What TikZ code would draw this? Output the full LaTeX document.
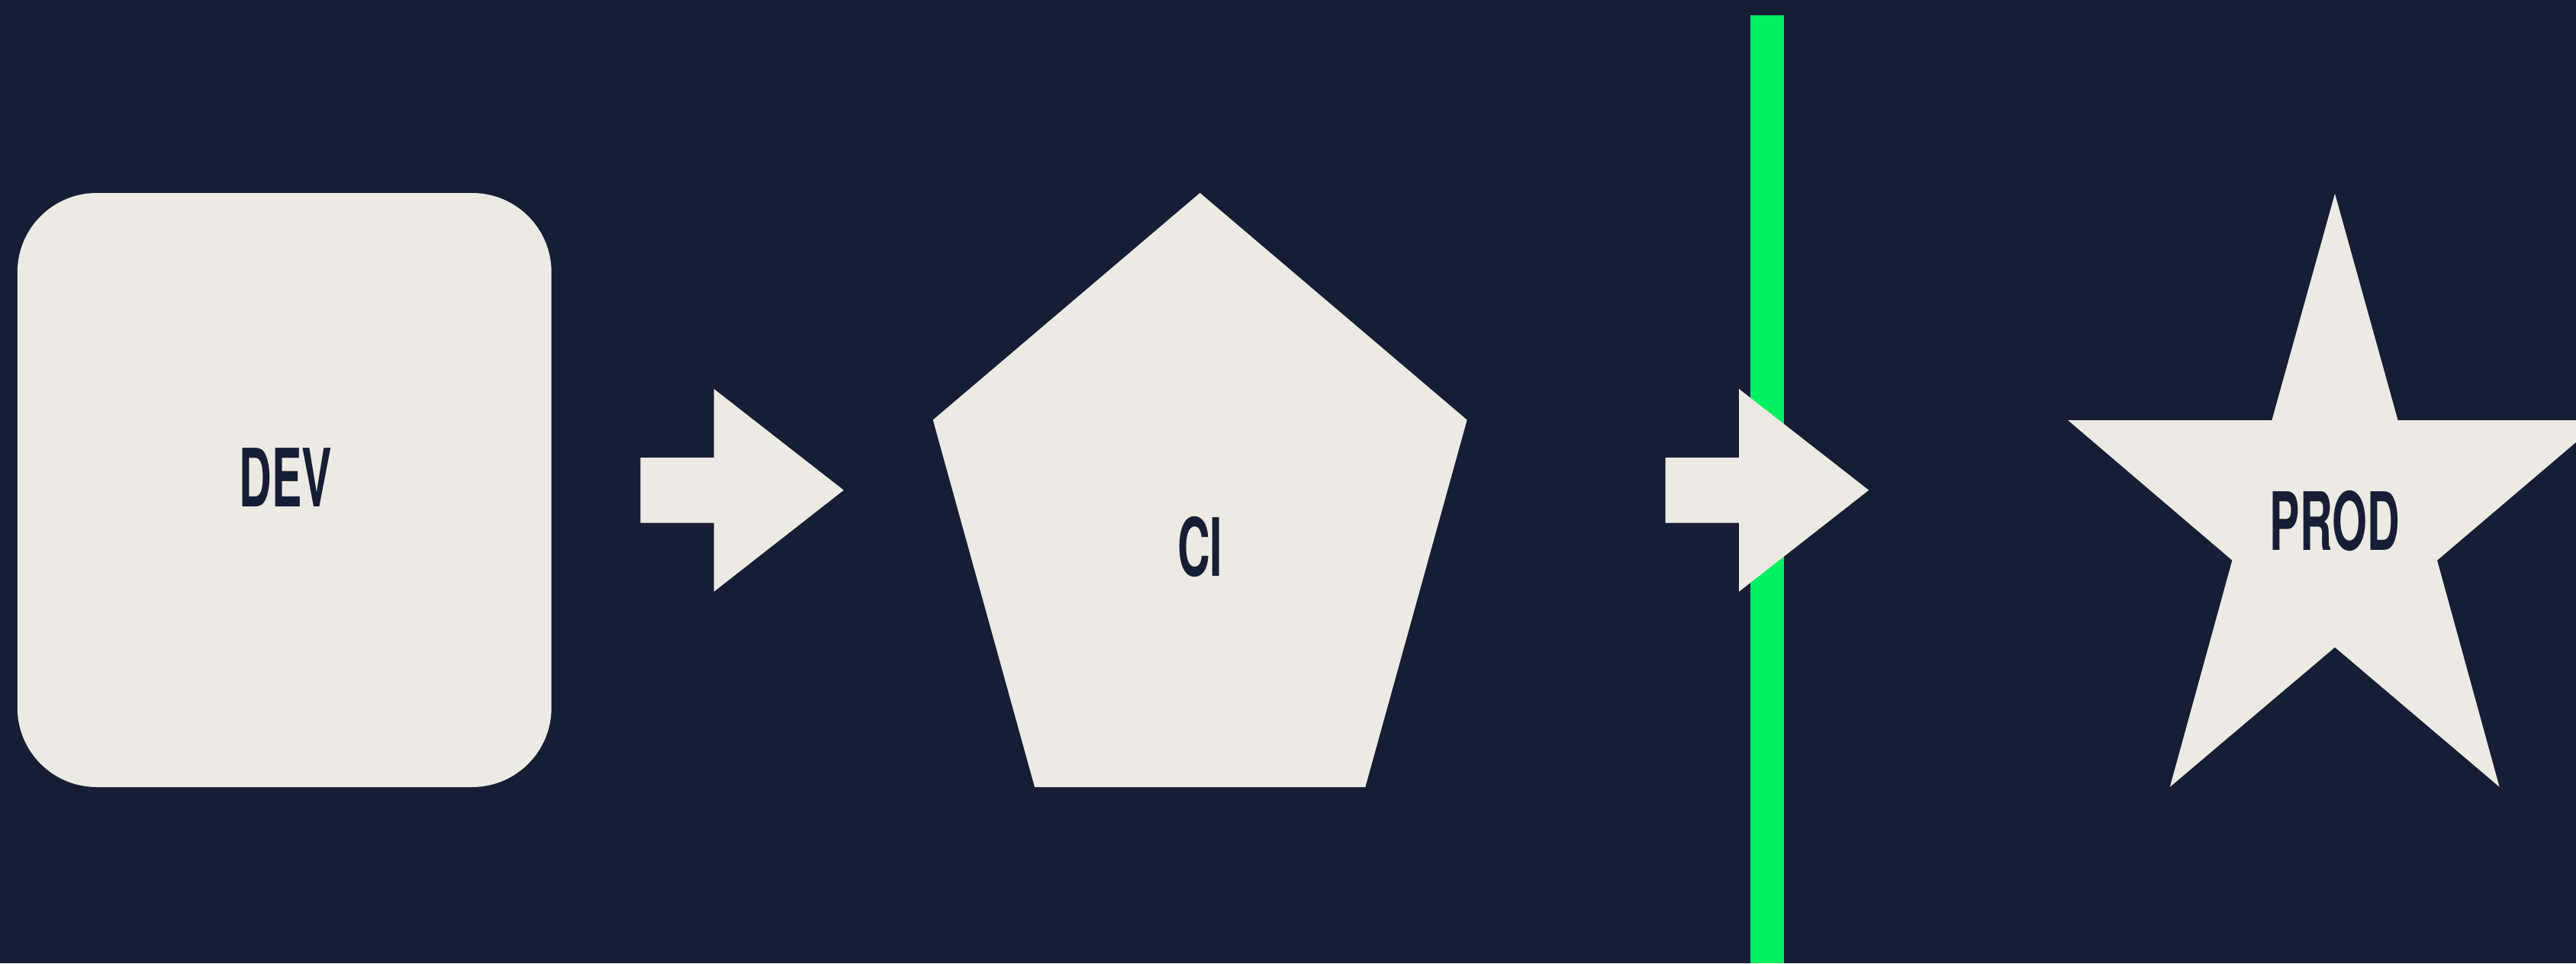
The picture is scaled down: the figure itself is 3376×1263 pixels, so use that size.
\documentclass[tikz,border=0pt]{standalone}
\usepackage{fontspec}
\setmainfont{TeX Gyre Heros}
\begin{document}
\definecolor{bgnavy}{HTML}{161E36}
\definecolor{paper}{HTML}{EDEAE3}
\definecolor{signal}{HTML}{00F060}
\begin{tikzpicture}[x=0.01cm,y=-0.01cm,
  shapefill/.style={fill=paper,draw=none},
  label/.style={text=bgnavy,font=\fontsize{30}{30}\selectfont\bfseries,inner sep=0pt,anchor=center},
  blockarrow/.style={fill=paper,draw=none}]
% background / bounding box
\fill[bgnavy] (0,0) rectangle (3376,1263);
\useasboundingbox (0,0) rectangle (3376,1263);
% DEV rounded box
\fill[shapefill,rounded corners=104*0.01cm] (22.8,253) rectangle (722.7,1032);
\node[label] (dev) at (374.5,626) {\scalebox{0.56}[1]{DEV}};
% CI pentagon
\fill[shapefill] (1572.6,253) -- (1922.6,550.6) -- (1789.3,1032) -- (1356,1032) -- (1222.7,550.6) -- cycle;
\node[label] (ci) at (1572.6,717) {\scalebox{0.56}[1]{CI}};
% PROD star
\fill[shapefill] (3060,254) -- (3142.5,551) -- (3409.8,551) -- (3194,734.7) -- (3275.6,1031.8)
  -- (3060,848.7) -- (2843.8,1031.8) -- (2925.4,734.7) -- (2710.2,551) -- (2977.4,551) -- cycle;
\node[label] (prod) at (3060,682.7) {\scalebox{0.56}[1]{PROD}};
% green gate line
\coordinate (gtop) at (2316,20);
\coordinate (gbot) at (2316,1263);
\draw[signal,line width=44*0.01cm] (gtop) -- (gbot);
% block arrows
\coordinate (a1) at (839.3,642.7);
\coordinate (a2) at (2182.7,642.7);
\foreach \c in {a1,a2}{
  \fill[blockarrow] (\c) ++(0,-42.7) -- ++(96.4,0) -- ++(0,-90) -- ++(170,132.7)
    -- ++(-170,133) -- ++(0,-90) -- ++(-96.4,0) -- cycle;
}
\end{tikzpicture}
\end{document}
